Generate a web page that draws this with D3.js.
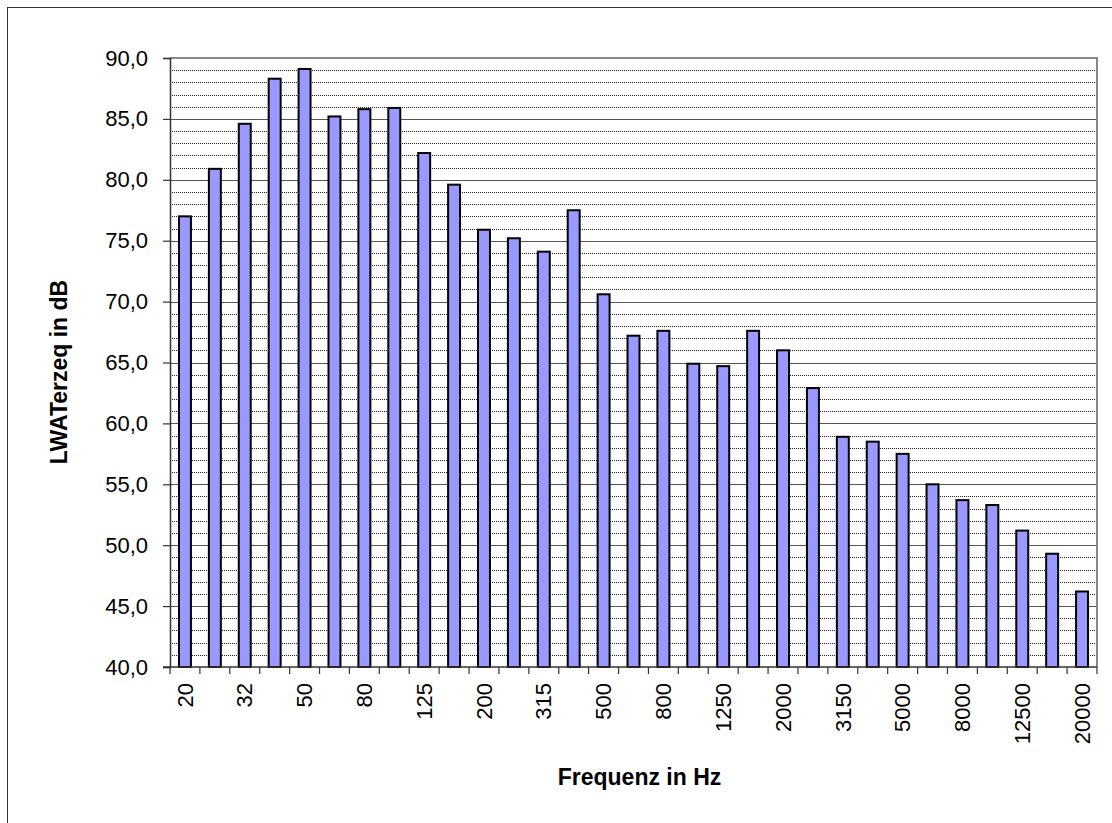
<!DOCTYPE html>
<html>
<head>
<meta charset="utf-8">
<script src="https://cdn.jsdelivr.net/npm/d3@7"></script>
<style>
  html, body { margin: 0; padding: 0; background: #fff; }
  svg { display: block; }
</style>
</head>
<body>
<svg id="chart" width="1112" height="823"></svg>
<script>
const categories = ["20","25","32","40","50","63","80","100","125","160","200","250","315","400","500","630","800","1000","1250","1600","2000","2500","3150","4000","5000","6300","8000","10000","12500","16000","20000"];
const values = [77.0, 80.9, 84.6, 88.3, 89.1, 85.2, 85.8, 85.9, 82.2, 79.6, 75.9, 75.2, 74.1, 77.5, 70.6, 67.2, 67.6, 64.9, 64.7, 67.6, 66.0, 62.9, 58.9, 58.5, 57.5, 55.0, 53.7, 53.3, 51.2, 49.3, 46.2];
const shownLabels = ["20","32","50","80","125","200","315","500","800","1250","2000","3150","5000","8000","12500","20000"];
const yTicks = [40, 45, 50, 55, 60, 65, 70, 75, 80, 85, 90];
const yMinor = d3.range(41, 90).filter(v => v % 5 !== 0);
const yTitle = "LWATerzeq in dB";
const xTitle = "Frequenz in Hz";

const svg = d3.select("#chart");
const L = 170, R = 1097, T = 58, B = 667;
const FONT = "Arial, 'Liberation Sans', sans-serif";

// outer border
svg.append("rect").attr("x", 7.5).attr("y", 7.5).attr("width", 1120).attr("height", 830)
  .attr("fill", "#fff").attr("stroke", "#333").attr("stroke-width", 1);

const x = d3.scaleBand().domain(categories).range([L, R]).paddingInner(0.6).paddingOuter(0.3);
const y = d3.scaleLinear().domain([40, 90]).range([B, T]);
const step = x.step();

// minor gridlines
svg.append("g").selectAll("line").data(yMinor).join("line")
  .attr("x1", L).attr("x2", R)
  .attr("y1", d => Math.round(y(d)) + 0.5).attr("y2", d => Math.round(y(d)) + 0.5)
  .attr("stroke", "#000").attr("stroke-width", 1).attr("stroke-dasharray", "1,1").attr("opacity", 0.85);

// major gridlines
svg.append("g").selectAll("line").data(yTicks.filter(v => v > 40 && v < 90)).join("line")
  .attr("x1", L).attr("x2", R)
  .attr("y1", d => Math.round(y(d)) + 0.5).attr("y2", d => Math.round(y(d)) + 0.5)
  .attr("stroke", "#555").attr("stroke-width", 1.2);

// plot border top/right
svg.append("path")
  .attr("d", `M${L},${y(90)}H${R}V${B}`)
  .attr("fill", "none").attr("stroke", "#888").attr("stroke-width", 2);

// bars
svg.append("g").selectAll("rect").data(values).join("rect")
  .attr("x", (d, i) => x(categories[i]))
  .attr("width", x.bandwidth())
  .attr("y", d => y(d))
  .attr("height", d => y(40) - y(d))
  .attr("fill", "#9999FF").attr("stroke", "#000").attr("stroke-width", 2);

// y axis
const yAxis = svg.append("g").attr("transform", `translate(${L},0)`)
  .call(d3.axisLeft(y).tickValues(yTicks).tickSize(7).tickPadding(15)
    .tickFormat(d => d.toFixed(1).replace(".", ",")));
yAxis.select(".domain").attr("stroke", "#333").attr("stroke-width", 1.5);
yAxis.selectAll(".tick line").attr("stroke", "#333").attr("stroke-width", 1.2);
yAxis.selectAll("text").attr("font-family", FONT).attr("font-size", 22).attr("fill", "#000");

// x axis line
svg.append("line").attr("x1", L - 7).attr("x2", R).attr("y1", B).attr("y2", B)
  .attr("stroke", "#333").attr("stroke-width", 1.5);

// x boundary ticks
const bounds = categories.map(c => x(c) - step * x.paddingOuter()).concat([R]);
svg.append("g").selectAll("line").data(bounds).join("line")
  .attr("x1", d => d).attr("x2", d => d).attr("y1", B).attr("y2", B + 7)
  .attr("stroke", "#333").attr("stroke-width", 1.2);

// x labels
svg.append("g").selectAll("text").data(shownLabels).join("text")
  .attr("transform", d => `translate(${x(d) + x.bandwidth() / 2},${B + 16}) rotate(-90)`)
  .attr("text-anchor", "end").attr("dy", "0.35em")
  .attr("font-family", FONT).attr("font-size", 22).attr("fill", "#000")
  .text(d => d);

// titles
svg.append("text")
  .attr("transform", `translate(${(L + R) / 2 + 6},785)`)
  .attr("text-anchor", "middle")
  .attr("font-family", FONT).attr("font-size", 23).attr("font-weight", "bold")
  .text(xTitle);

svg.append("text")
  .attr("transform", `translate(67,372) rotate(-90)`)
  .attr("text-anchor", "middle")
  .attr("font-family", FONT).attr("font-size", 23).attr("font-weight", "bold")
  .text(yTitle);
</script>
</body>
</html>
